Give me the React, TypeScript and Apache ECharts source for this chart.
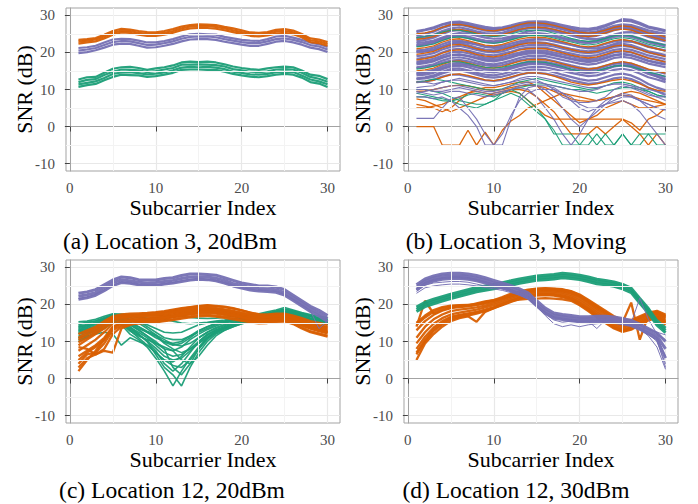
import React, { useEffect, useRef } from "react";
import * as echarts from "echarts";

const SUBCARRIERS = [1,2,3,4,5,6,7,8,9,10,11,12,13,14,15,16,17,18,19,20,21,22,23,24,25,26,27,28,29,30];
const X_TICKS = [0, 10, 20, 30];
const Y_TICKS = [-10, 0, 10, 20, 30];
const X_MINOR = [5, 15, 25];
const Y_MINOR = [-5, 5, 15, 25];
const X_RANGE = [-0.45, 31.45];
const Y_RANGE = [-12, 32];
const CAPTIONS = ["(a) Location 3, 20dBm", "(b) Location 3, Moving", "(c) Location 12, 20dBm", "(d) Location 12, 30dBm"];
const X_TITLE = "Subcarrier Index";
const Y_TITLE = "SNR (dB)";

const ORANGE = "#D95F02";
const PURPLE = "#7570B3";
const GREEN = "#1B9E77";

// ---- (a) Location 3, 20dBm
const A_ORANGE = [
  [23.4,23.6,23.9,24.8,25.8,26.4,26.2,25.8,25.5,25.4,25.8,26.3,27.0,27.4,27.6,27.5,27.4,26.9,26.5,26.0,25.4,25.3,25.5,26.1,26.3,25.9,25.0,23.8,23.5,22.8],
  [22.9,23.2,23.5,24.3,25.3,25.9,25.8,25.3,25.0,25.0,25.3,25.8,26.5,27.0,27.1,27.1,26.9,26.5,26.0,25.5,25.0,24.8,25.1,25.6,25.8,25.4,24.6,23.3,23.0,22.3],
  [22.4,22.7,23.0,23.8,24.8,25.4,25.3,24.8,24.5,24.5,24.8,25.3,26.0,26.5,26.6,26.6,26.4,26.0,25.5,25.0,24.5,24.3,24.6,25.1,25.3,24.9,24.1,22.8,22.5,21.8],
];
const A_PURPLE = [
  [21.2,21.4,21.8,22.7,23.5,23.7,23.6,23.2,22.7,22.7,23.1,23.6,24.3,24.9,25.0,24.9,24.8,24.2,23.8,23.4,23.2,23.1,23.6,24.3,24.5,24.0,23.4,22.7,22.2,21.5],
  [20.5,20.8,21.2,22.0,22.8,23.1,23.0,22.5,22.0,22.1,22.5,23.0,23.7,24.2,24.3,24.3,24.1,23.6,23.2,22.8,22.5,22.5,23.0,23.6,23.8,23.4,22.8,22.0,21.6,20.8],
  [19.8,20.1,20.6,21.3,22.1,22.4,22.3,21.8,21.3,21.4,21.8,22.3,23.0,23.5,23.6,23.6,23.4,22.9,22.5,22.1,21.8,21.8,22.3,22.9,23.1,22.7,22.1,21.3,20.9,20.1],
];
const A_GREEN = [
  [12.7,13.3,13.4,14.5,15.6,16.0,16.1,15.8,15.3,15.7,16.0,16.5,17.3,17.5,17.4,17.5,17.3,16.8,16.2,15.8,15.5,15.3,15.7,16.0,16.2,16.0,15.1,14.0,13.7,12.8],
  [12.0,12.6,12.8,13.9,14.8,15.4,15.3,15.2,14.7,15.0,15.4,15.8,16.7,16.7,16.8,16.7,16.6,16.2,15.5,15.2,14.8,14.7,14.9,15.4,15.5,15.4,14.5,13.4,12.9,12.1],
  [11.4,11.8,12.2,13.1,14.2,14.6,14.7,14.4,14.1,14.3,14.6,15.2,15.9,16.1,16.0,16.1,15.9,15.5,14.8,14.5,14.1,14.0,14.2,14.7,14.8,14.7,13.8,12.7,12.2,11.4],
  [10.7,11.2,11.5,12.5,13.4,14.0,13.9,13.8,13.4,13.6,14.0,14.5,15.3,15.4,15.4,15.3,15.3,14.8,14.2,13.8,13.5,13.3,13.6,14.0,14.2,14.0,13.2,12.0,11.6,10.7],
];

// ---- (b) Location 3, Moving
const B_PURPLE_MASS = [
  [25.5,26,26.5,27.5,28,28,27.5,27,26.5,26.3,26.5,27,27.5,28,28,28,27.5,27,26.5,26,26,26.3,27,28,29,28.8,28,27,26.5,26],
  [24,24.3,24.8,25.8,26.5,26.8,26.3,25.7,25.2,25,25.3,26,26.7,27.2,27.3,27.2,26.8,26.2,25.7,25.2,25,25.3,26,26.8,27.2,27,26.3,25.5,25,24.5],
  [22,22.3,22.8,23.8,24.5,24.7,24.3,23.7,23.2,23,23.3,24,24.6,25,25.2,25,24.6,24,23.5,23,22.8,23.1,23.8,24.5,24.8,24.5,23.8,23,22.5,22],
  [20.5,20.8,21.3,22.2,23,23.2,22.8,22.2,21.6,21.5,21.8,22.4,23,23.5,23.6,23.5,23,22.5,22,21.5,21.3,21.6,22.3,23,23.3,23,22.3,21.5,21,20.5],
  [19,19.3,19.8,20.8,21.5,21.8,21.3,20.7,20.2,20,20.3,21,21.6,22,22.1,22,21.6,21,20.5,20,19.8,20,20.7,21.5,21.8,21.5,20.8,20,19.5,19],
  [17.5,17.8,18.3,19.2,20,20.2,19.8,19.2,18.6,18.5,18.8,19.4,20,20.5,20.6,20.5,20,19.5,19,18.5,18.2,18.5,19.2,20,20.3,20,19.3,18.5,18,17.5],
  [16,16.3,16.8,17.8,18.5,18.7,18.3,17.6,17,16.8,17.2,17.8,18.5,19,19.1,19,18.5,18,17.5,17,16.7,17,17.7,18.5,18.8,18.5,17.8,17,16.5,16],
  [14.5,14.8,15.3,16.3,17,17.2,16.8,16,15.5,15.3,15.6,16.2,17,17.5,17.6,17.5,17,16.5,16,15.5,15.2,15.5,16.2,17,17.3,17,16.2,15.3,14.8,14.3],
  [13,13.3,13.8,14.8,15.5,15.7,15.2,14.5,14,13.8,14.2,14.8,15.5,16,16.1,16,15.5,15,14.5,14,13.6,13.8,14.5,15.3,15.6,15.2,14.3,13.3,12.7,12],
  [12,12.2,12.6,13.5,14,14,13.5,13,12.5,12.3,12.6,13.2,14,14.5,14.5,14.3,13.8,13.2,12.5,12,11.5,11.7,12.3,13,13.3,12.8,11.8,10.5,9.5,8.5],
  [23,23.4,24,25,25.8,26,25.5,25,24.6,24.5,24.7,25.3,26,26.5,26.7,26.5,26,25.5,25,24.5,24.2,24.5,25.2,26,26.5,26.2,25.5,24.7,24,23.3],
  [20,20.2,20.6,21.5,22.3,22.5,22,21.3,20.8,20.6,21,21.6,22.2,22.7,22.8,22.6,22.1,21.5,21,20.6,20.3,20.6,21.2,22,22.3,22,21.2,20.3,19.8,19.3],
  [24.8,25.1,25.6,26.6,27.3,27.5,27,26.4,25.9,25.7,26,26.6,27.3,27.7,27.8,27.7,27.2,26.6,26.1,25.6,25.4,25.7,26.4,27.2,27.6,27.4,26.7,26,25.5,25],
  [16.8,17.1,17.6,18.6,19.3,19.5,19,18.4,17.8,17.6,18,18.6,19.3,19.7,19.8,19.7,19.2,18.7,18.2,17.7,17.4,17.7,18.4,19.2,19.5,19.2,18.5,17.7,17.2,16.7],
  [13.8,14,14.5,15.5,16.2,16.4,16,15.3,14.8,14.6,15,15.6,16.3,16.8,16.9,16.8,16.3,15.8,15.2,14.7,14.4,14.7,15.4,16.2,16.5,16.1,15.2,14.2,13.5,12.8],
  [22.5,22.8,23.2,24,24.8,25.2,25,24.5,24,23.7,23.8,24.3,25,25.7,26,26,25.7,25.2,24.6,24,23.6,23.6,24,24.8,25.4,25.5,25,24.2,23.5,23],
  [18.3,18.6,19,20,20.8,21,20.5,19.9,19.4,19.2,19.6,20.2,20.9,21.3,21.4,21.3,20.8,20.2,19.7,19.2,19,19.3,20,20.7,21,20.7,20,19.2,18.7,18.2],
  [21.8,22,22.5,23.4,24.1,24.3,23.9,23.3,22.8,22.6,22.9,23.6,24.3,24.7,24.8,24.7,24.3,23.7,23.2,22.7,22.5,22.8,23.4,24.2,24.5,24.2,23.5,22.7,22.2,21.6],
  [24.5,25,25.8,26.8,27.5,27.6,27.3,26.8,26.3,26,26.2,26.6,27.2,27.6,27.7,27.5,27,26.4,25.8,25.3,25.1,25.4,26,26.6,26.8,26.5,25.8,25,24.4,23.8],
  [15.8,16,16.4,17.2,17.8,18,17.6,17,16.5,16.3,16.6,17.2,17.9,18.3,18.4,18.2,17.7,17.1,16.5,16,15.6,15.8,16.4,17,17.2,16.7,15.7,14.5,13.5,12.5],
  [20.2,20.4,20.8,21.6,22.4,22.8,22.6,22.1,21.5,21.2,21.3,21.8,22.5,23.2,23.5,23.5,23.2,22.7,22.1,21.5,21.1,21.1,21.5,22.3,22.9,23,22.5,21.7,21,20.5],
  [12.8,13,13.4,14.3,15,15.2,14.7,14,13.4,13.2,13.5,14.1,14.8,15.3,15.4,15.2,14.7,14,13.4,12.8,12.4,12.6,13.3,14,14.3,13.8,12.8,11.5,10.5,9.8],
  [25.8,26.2,26.8,27.6,28.2,28.3,27.9,27.4,26.9,26.6,26.8,27.3,27.9,28.3,28.4,28.3,27.9,27.4,26.9,26.5,26.4,26.7,27.4,28.2,28.6,28.4,27.6,26.7,26.2,25.7],
  [17.2,17.4,17.8,18.6,19.2,19.4,19.1,18.6,18.2,18,18.3,18.9,19.6,20.1,20.2,20,19.5,18.9,18.4,18,17.8,18,18.6,19.3,19.6,19.3,18.6,17.8,17.3,16.9],
  [23.8,24,24.5,25.3,26,26.2,25.8,25.3,24.8,24.6,24.9,25.5,26.2,26.6,26.7,26.6,26.2,25.6,25.1,24.7,24.5,24.8,25.5,26.3,26.6,26.3,25.6,24.8,24.3,23.8],
  [14.2,14.5,15,15.8,16.5,16.8,16.5,16,15.5,15.2,15.4,16,16.6,17.1,17.2,17,16.5,15.9,15.4,15,14.8,15,15.6,16.3,16.6,16.3,15.5,14.6,14,13.4],
];
const B_PURPLE_LOW = [
  [8,8,7.5,8,7,5,3,0,-5,-5,-2,3,7,9,10,10,10,9,8,6,5,5,6,7,8,8,7,6,5,4.5],
  [2.2,2.2,2.2,5,7.5,8,5,2,-2,-5,-5,2,8,10.5,11,11,10.5,9,7,5,4,5,7,8,8.5,8,7,6,5,4.5],
  [10,10,9.5,9.5,10,10.5,10,9.5,9,9,9.5,10,10.5,10,8,5,2,-2,-5,-2,2,5,6,6.5,7,6,4,1,-2,-5],
  [12,12,11.5,12,12.5,13,12.5,12,11.5,11,11.5,12,12.5,13,12.5,11.5,10,8,7,6.5,6.5,7,8,10,11,10.5,9.5,8.5,8,8],
  [9.5,9,8.5,9,9.5,9.5,9,8.5,8,8.5,9,10,11,11.5,11,10,8,5,2,0,2,4,6,8,9,8.5,7,5,3,2],
  [9,9.5,10,10.5,11,11,10.5,10,9.5,9.5,10,11,11.5,12,12,11.5,11,10.5,10,9.5,9.5,10,11,11.5,11.5,11,10.5,10,9.5,9],
  [10.5,10.8,11,12,12.5,12.5,12,11.5,11,11,11.5,12,13,13.5,13.5,13,12.5,12,11.5,11,10.5,10.5,11,11.5,11.5,11,10,9,8,7],
];
const B_ORANGE = [
  [23.5,23.8,24.3,25.2,26,26.2,25.8,25.2,24.7,24.5,24.8,25.5,26.2,26.7,26.8,26.7,26.2,25.6,25,24.5,24.3,24.6,25.3,26,26.3,26,25.2,24.4,23.8,23.2],
  [21,21.3,21.8,22.8,23.5,23.7,23.2,22.6,22,21.8,22.2,22.9,23.6,24,24.1,24,23.5,22.9,22.3,21.8,21.5,21.8,22.5,23.2,23.5,23.1,22.3,21.5,21,20.4],
  [18,18.3,18.8,19.8,20.5,20.7,20.2,19.5,19,18.8,19.2,19.9,20.6,21,21.1,21,20.5,19.9,19.3,18.8,18.5,18.8,19.5,20.2,20.5,20.1,19.3,18.5,18,17.4],
  [15,15.3,15.8,16.8,17.5,17.7,17.2,16.5,16,15.8,16.2,16.9,17.6,18,18.1,18,17.5,16.9,16.3,15.8,15.5,15.8,16.5,17.2,17.5,17.1,16.3,15.5,15,14.4],
  [12,12.2,12.5,13.3,14,14.2,13.8,13.2,12.6,12.4,12.8,13.4,14,14.5,14.5,14.2,13.6,12.8,12,11.5,11.2,11.5,12,12.5,12.8,12.3,11.5,10.5,9.8,9.5],
  [9.5,9.6,10,10.5,11,11.2,11,10.5,10,9.8,10,10.5,11,11.2,11,10.5,9.5,8.5,7.5,7,6.8,7,7.5,8,8.5,8.2,7.5,7,6.5,6],
  [25,25.3,25.8,26.8,27.5,27.6,27.2,26.6,26,25.8,26.2,26.8,27.5,28,28,27.8,27.3,26.7,26,25.5,25.2,25.4,26,26.8,27.2,26.9,26.1,25.3,24.8,24.2],
  [19.5,19.8,20.3,21.2,22,22.2,21.7,21,20.5,20.3,20.7,21.4,22.1,22.5,22.6,22.5,22,21.4,20.8,20.3,20,20.3,21,21.7,22,21.6,20.8,20,19.5,18.9],
  [0,0,0,-5,-5,-5,-1,-5,-1.5,-5,-1,1.5,3,5,6,7,8,9,8.5,8,7.5,7,7.5,8,9,9.5,9,8,7,6],
  [5,5,5.5,6,7,8,9,9.5,9,8.5,9,9.5,9,7,5,3,2,2,2,2,2,2,2,2,2,0,-2,-5,-2,-5],
  [7.5,7,6,5,4,5,6,7,8,9,9.5,10,10,9.5,8,6,4,1,-2,-2,-2,0,-2,0,2,1,-1,2,3,5],
  [6,5.5,5,4,5,7,9,10,10.5,10.5,11,11.5,12,12,11,9,7,5,3,1,2,3,5,6,7,6,5,5,5.5,6],
];
const B_GREEN = [
  [24,24.3,24.8,25.5,26,26,25.6,25,24.5,24.3,24.5,25,25.6,26,26,25.8,25.2,24.5,23.8,23.3,23,23.2,23.8,24.5,24.8,24.5,23.8,23,22.5,22],
  [12,12.3,12.8,12.5,12,11.5,11,10.5,10,9.8,10.2,11,12,12.5,13,12.5,12,11.5,11,10.5,10,10.3,11,11.8,12,11.5,10.5,9.5,8.5,8],
  [8,8,7.5,7,6.8,7.5,8.5,9,8.5,8,9,10,10.5,11,11.5,11.5,11,10.5,10,10,9.5,9,9.5,10,10.5,10.5,10,9.5,8.5,8],
  [15.5,15.8,16.3,17,17.5,17.5,17,16.5,16,15.8,16,16.5,17,17.5,17.5,17.3,16.8,16.2,15.5,15,14.8,15,15.7,16.3,16.5,16.2,15.5,14.7,14.2,13.5],
  [9,8.5,8,7.5,7,6,5.5,5,6,7,8,9,8,6,4,2,-2,-2,-2,-5,-2,-5,-2,-5,-2,-5,-2,-2,-2,-2],
  [10,10,9.5,9,8,7,6.5,6,6,7,9,10,9,7,5,2,-1,-5,-5,-5,-5,-2,-5,-5,-2,-5,-5,-2,-5,-5],
  [21.5,21.8,22.3,23.2,24,24.2,23.8,23.2,22.7,22.5,22.8,23.4,24,24.5,24.6,24.4,23.9,23.3,22.8,22.3,22,22.3,23,23.7,24,23.7,23,22.2,21.7,21.2],
];

// ---- (c) Location 12, 20dBm
const C_PURPLE_BAND = [
  [23.0,23.4,24.0,25.3,26.6,27.4,27.2,26.7,26.6,26.6,27.0,27.2,27.8,28.2,28.2,28.1,27.9,27.2,26.5,25.8,25.4,25.0,25.0,24.7,24.0,22.5,21.0,19.5,18.4,17.0],
  [22.2,22.6,23.2,24.5,25.9,26.6,26.4,26.0,25.8,25.9,26.2,26.5,27.0,27.4,27.5,27.4,27.1,26.5,25.7,25.1,24.6,24.3,24.2,24.0,23.2,21.8,20.3,18.8,17.6,16.2],
  [21.4,21.8,22.5,23.7,25.1,25.9,25.7,25.3,25.1,25.1,25.5,25.8,26.2,26.6,26.8,26.7,26.4,25.8,25.0,24.4,23.9,23.6,23.5,23.3,22.5,21.1,19.6,18.1,16.9,15.4],
];
const C_PURPLE_THIN = [
  [21.6,22,22.7,23.9,25.3,26,25.8,25.4,25.2,25.3,25.6,25.9,26.4,26.8,26.9,26.8,26.5,25.9,25.2,24.6,24.1,23.8,23.7,23.5,22.7,21.3,19.8,18.3,13.5,15.5],
];
const C_GREEN = [
  [15.3,15.5,16,16.8,17.5,17.4,17.3,17.2,17.1,17.2,17.1,17,16.8,16.5,16.3,16.2,16.3,16.5,16.8,17,17.3,17.5,18,18.5,19.2,18.5,17.8,17.3,16.8,16.5],
  [14,14.4,15,16,17,17,16.8,16.5,16.3,16.2,16,15.5,15,14.8,15,15.2,15.5,15.8,16.2,16.6,17,17.2,17.6,18.2,18.8,18.2,17.5,17,16.3,16],
  [12.5,13,14,15,16.2,16.3,15.8,15.3,14.5,13.5,12.5,12.3,12.5,13.5,14.5,15,15.3,15.5,16,16.3,16.7,17,17.3,17.8,18.3,17.8,17.2,16.7,16,15.5],
  [11,11.8,13,14.3,15.5,15.8,15,14,12.5,11,10,9.5,10,11.5,13,14,14.8,15.2,15.7,16,16.5,16.8,17,17.5,18,17.5,17,16.3,15.7,15.3],
  [10,11,12.3,13.5,15,15.5,14.5,13.2,11.5,9.5,8,7.5,8.5,10.5,12,13.2,14.2,15,15.5,15.8,16.2,16.5,16.8,17.2,17.7,17.2,16.6,16,15.5,15],
  [13.5,14,14.8,15.5,16.5,15,13,11,9,7,5,4.5,6,8.5,11,12.5,13.5,14.3,15,15.5,16,16.3,16.6,17,17.5,17,16.4,15.8,15.3,14.8],
  [14.5,15,15.5,16.2,17,16,14,12,10,7.5,4,2,4,7,10,12,13.2,14,14.7,15.2,15.7,16,16.5,17,17.6,17,16.5,16,15.5,15],
  [12,12.5,13.5,14.8,16,14.5,12,10.5,8.5,5.5,2,-2,2,5.5,8.5,11,12.5,13.5,14.3,15,15.5,15.8,16.2,16.8,17.3,16.8,16.2,15.6,15.2,14.7],
  [13,13.5,14.2,15.2,16.3,15.2,13.5,12,10,6.5,3,1,-2,3,7,10,12,13,14,14.8,15.3,15.6,16,16.5,17,16.6,16,15.5,15,14.5],
  [11.5,12.2,13.2,14.5,16,15.3,13.8,12.5,11,9,7,6,6.5,8,10,11.8,13,13.8,14.5,15.2,15.8,16.2,16.6,17.2,17.8,17.3,16.8,16.2,15.6,15.2],
  [14.8,15.2,15.6,16.5,17.3,17,16.5,15.5,14,12.5,11,10.5,10.5,11.5,12.5,13.5,14.5,15.2,15.8,16.3,16.8,17,17.4,18,18.6,18,17.4,16.8,16.2,15.8],
  [12.8,13.3,14,15,16,15.8,14.8,13.5,12.5,11.5,9.5,8,7,8,9.5,11,12.5,13.5,14.3,15,15.5,16,16.5,17,17.5,17,16.4,15.8,15.3,14.8],
  [13.8,14.2,14.9,15.8,16.8,16,14.5,13,11.5,10,8,3,1,4,8,11,12.8,13.8,14.6,15.3,15.9,16.3,16.8,17.3,18,17.5,16.9,16.2,15.7,15.2],
  [10.5,11.2,12.5,14,15.3,14.8,12.8,11.5,10.5,9.5,8.5,7.5,5,4,6,9,11.5,13,14,14.8,15.4,15.8,16.2,16.8,17.3,16.8,16.2,15.6,15,14.6],
  [11,11.5,12,12.5,12,9,11,10,9,7,5,3.5,3,5,8,10.5,12.3,13.4,14.3,15,15.6,16,16.4,16.9,17.4,17,16.3,15.7,15.2,14.7],
  [13.2,13.8,14.5,15.5,16.6,16.2,15.2,14,12.8,11.8,10.5,9.2,8.8,9.5,11,12.5,13.8,14.6,15.2,15.7,16.2,16.5,16.9,17.4,18,17.5,16.9,16.3,15.8,15.3],
  [12.2,12.8,13.8,15,16.2,15.5,13.2,11.8,10.2,8.2,6,5,5.5,7.5,9.5,11.5,13,13.9,14.7,15.3,15.8,16.1,16.5,17,17.6,17.1,16.5,15.9,15.4,14.9],
  [14.2,14.6,15.2,16,17,16.8,16,15,13.5,11.8,9.8,9,9.5,11,12.8,14,14.9,15.4,15.9,16.4,16.9,17.2,17.6,18.1,18.7,18.2,17.6,17,16.4,16],
];
const C_ORANGE = [
  [12,13,14,15.5,16.8,17.3,17.5,17.6,17.7,17.9,18.2,18.6,19,19.3,19.6,19.7,19.5,19.3,18.9,18.4,17.8,17.4,17.3,17.5,17.5,17,16.3,15.5,15,14.5],
  [10.5,11.8,13,14.5,16.2,16.8,17,17.1,17.2,17.4,17.7,18.1,18.5,18.8,19.1,19.2,19,18.7,18.3,17.8,17.3,16.9,16.8,17,17.2,16.6,15.8,15,14.4,13.8],
  [9,10.5,12,13.5,15.5,16.2,16.5,16.6,16.7,16.9,17.2,17.6,18,18.3,18.6,18.7,18.5,18.2,17.8,17.3,16.8,16.4,16.3,16.6,16.8,16.2,15.3,14.5,13.8,13.2],
  [7.5,9,10.5,12.5,14.8,15.6,16,16.1,16.2,16.4,16.7,17,17.5,17.8,18.1,18.2,18,17.7,17.3,16.8,16.3,16,15.9,16.2,16.4,15.8,14.8,14,13.3,12.7],
  [6,7.5,9,11,14,15,15.4,15.5,15.7,15.9,16.2,16.5,17,17.3,17.6,17.7,17.5,17.2,16.8,16.3,15.8,15.5,15.5,15.8,16,15.3,14.3,13.5,12.8,12.2],
  [4,6.5,7,9.5,13,14.4,14.8,15,15.2,15.4,15.7,16,16.5,16.8,17.1,17.2,17,16.7,16.3,15.8,15.4,15.1,15.2,15.5,15.6,14.9,13.8,12.8,12.2,11.6],
  [8.5,8,6.5,7.5,7,13.5,14.5,15.2,15.6,15.8,16.2,16.6,17,17.4,17.8,18,17.8,17.4,17,16.5,16,15.7,15.6,15.9,16.2,15.6,14.6,13.7,13,12.5],
  [2,5,7.5,10.5,13.5,15,15.7,16,16.2,16.5,16.9,17.3,17.8,18.1,18.5,18.6,18.4,18,17.6,17.1,16.6,16.2,16.1,16.4,16.6,16,15,14.2,13.5,12.9],
  [11,12.5,13.5,15,16.5,17,17.2,17.3,17.5,17.7,18,18.4,18.8,19.2,19.5,19.8,19.6,19.4,19,18.4,17.8,17.2,17,17.2,17.3,16.6,15.6,14.8,14.2,14],
  [5,7,8.5,10.5,13.8,15.2,15.6,15.8,16,16.2,16.5,16.8,17.3,17.6,17.9,18,17.8,17.5,17.1,16.6,16.1,15.8,15.8,16.1,16.3,15.6,14.5,13.6,13,12.4],
  [9.8,11,12.5,14,16,16.5,16.8,16.9,17,17.2,17.5,17.9,18.3,18.6,18.9,19,18.8,18.5,18.1,17.6,17.1,16.7,16.6,16.9,17,16.4,15.5,14.7,14,13.5],
  [3,5.5,6.5,8,12,14,14.6,14.8,15,15.2,15.5,15.8,16.2,16.5,16.8,16.9,16.7,16.4,16,15.6,15.2,14.9,15,15.3,15.4,14.7,13.5,12.5,11.9,11.3],
];

// ---- (d) Location 12, 30dBm
const D_GREEN = [
  [19.3,20.6,21.4,22.1,22.8,23.4,24.0,24.6,25.0,25.4,25.9,26.4,26.9,27.3,27.7,27.9,28.1,28.4,28.2,27.9,27.4,26.8,26.5,26.1,25.4,24.4,21.6,18.9,15.6,13.6],
  [18.7,20.0,20.8,21.5,22.2,22.8,23.4,24.0,24.4,24.8,25.3,25.8,26.3,26.7,27.1,27.3,27.5,27.8,27.6,27.3,26.8,26.2,25.9,25.5,24.8,23.8,21.0,18.3,15.0,13.0],
  [18.1,19.4,20.2,20.9,21.6,22.2,22.8,23.4,23.8,24.2,24.7,25.2,25.7,26.1,26.5,26.7,26.9,27.2,27.0,26.7,26.2,25.6,25.3,24.9,24.2,23.2,20.4,17.7,14.4,12.4],
];
const D_PURPLE_BAND = [
  [25.3,26.9,27.7,28.2,28.4,28.4,28.2,27.8,27.2,26.5,25.8,25.1,24.2,23.1,21.0,19.0,17.7,17.3,17.0,16.7,16.7,16.8,16.8,16.6,16.2,15.7,14.7,13.5,12.3,10.0],
  [24.6,26.2,27.0,27.5,27.7,27.7,27.5,27.1,26.5,25.8,25.1,24.4,23.5,22.4,20.3,18.3,17.0,16.6,16.3,16.0,16.0,16.1,16.1,15.9,15.5,15.0,14.0,12.8,11.5,8.0],
  [23.9,25.5,26.3,26.8,27.0,27.0,26.8,26.4,25.8,25.1,24.4,23.7,22.8,21.7,19.6,17.6,16.3,15.9,15.6,15.3,15.3,15.4,15.4,15.2,14.8,14.3,13.3,12.1,10.7,5.5],
];
const D_PURPLE_THIN = [
  [23,24.5,25,25.3,25.5,25.5,25.3,25,24.6,24.2,23.8,23.2,22.5,21.5,19.5,17,14.8,14,14.5,14,14.5,14.8,15,15,14.7,14.2,13.2,11.8,10.5,3],
  [23.5,25.2,25.8,26,26.2,26.2,26,25.5,25,24.6,24.2,23.6,22.8,21.8,19.8,17.5,15.8,15.2,15.5,15.3,15.5,13.5,15.8,15.5,15.2,14.8,13.7,12.5,11,6],
  [24.2,26,26.8,27.2,27.5,27.5,27.3,26.8,26.2,25.5,24.8,24,23,22,20,18,16.7,16.3,16,15.8,15.8,15.9,16,15.7,15.3,15,21.7,16,12,10.5],
  [25,26.5,27.4,27.9,28,28,27.8,27.4,26.8,26.1,25.4,24.7,23.8,22.8,20.7,18.6,17.3,16.9,16.6,16.3,16.3,16.4,16.4,16.2,15.8,15.4,14.5,13.3,12.5,11.8],
  [24.3,25.8,26.6,27.1,27.3,27.3,27.1,26.7,26.1,25.4,24.7,24,23.1,22,19.9,17.8,16.5,16.1,15.8,15.5,15.5,15.6,15.6,15.4,15,14.5,13.5,12,10,4],
  [24,25.6,26.4,26.9,27.1,27.1,26.9,26.5,25.9,25.2,24.5,23.8,22.9,21.8,19.7,17.7,16.4,16,15.7,15.4,15.4,15.5,15.5,15.3,14.9,14.4,13.4,11.5,8.5,2.5],
];
const D_ORANGE = [
  [15,17,18.5,19.3,19.7,19.8,19.9,20,20.5,21,21.8,22.6,23.3,23.8,24.2,24.3,24.2,24,23.5,22.5,21,19.5,18,16.5,15.5,15.5,16.5,17.5,18,17],
  [13,15.5,17.2,18.3,19,19.3,19.5,19.8,20.2,20.7,21.4,22.2,23,23.5,23.8,23.9,23.8,23.5,23,22,20.5,18.8,17.3,15.8,14.8,15,16.2,17.3,17.8,16.6],
  [11,14,16,17.3,18.2,18.6,18.9,19.2,19.7,20.3,21,21.8,22.6,23.2,23.5,23.6,23.5,23.2,22.6,21.5,20,18.3,16.7,15.2,14.3,14.6,15.8,17,17.5,16.2],
  [9.5,12.5,14.8,16.3,17.3,17.8,18.2,18.6,19.2,19.8,20.6,21.4,22.2,22.8,23.1,23.2,23.1,22.8,22.2,21,19.5,17.8,16.2,14.7,13.8,14.2,15.4,16.6,17.2,15.8],
  [8,11.3,13.8,15.5,16.7,17.2,17.6,18,18.6,19.3,20.2,21,21.8,22.4,22.7,22.8,22.7,22.4,21.8,20.5,19,17.3,15.7,14.2,13.3,13.8,15,16.3,16.8,15.4],
  [6.5,10,12.8,14.6,16,16.6,17,17.5,18.2,19,19.8,20.7,21.5,22.1,22.4,22.5,22.4,22,21.4,20,18.5,16.8,15.2,13.7,12.8,13.4,14.7,16,16.5,15],
  [14,21,17.5,18.5,19.2,19.5,19.7,20.3,20.8,21.2,21.6,22.3,23,23.6,24,24.2,24,23.7,23.2,22.2,20.7,19.2,17.6,16.2,15.2,20.5,10.5,17,17.8,16.8],
  [5,9.5,12,14,15.5,16.3,16.8,15.3,18,19,20,21,21.3,21.5,21.6,21.7,21.6,21.4,21,19.8,18.2,16.5,15,13.5,12.6,13.2,14.5,15.7,16.3,14.5],
  [14.5,16.5,18,19,19.5,19.7,19.8,20.1,20.6,21.2,22,22.9,23.5,24,24.3,24.4,24.3,24.1,23.6,22.7,21.3,19.8,18.3,16.8,15.8,15.8,16.8,17.8,18.3,17.3],
  [7,10.5,13.3,15,16.4,17,17.3,17.8,18.4,19.1,20,20.8,21.7,22.3,22.6,22.7,22.6,22.2,21.6,20.3,18.8,17,15.4,13.9,13,13.6,14.8,16.1,16.6,15.2],
];

// layout
const PLOT_W = 274;
const PLOT_H = 163;
const PANELS = [
  { left: 66, top: 8, groups: [[A_GREEN, GREEN, 2.2], [A_PURPLE, PURPLE, 2.2], [A_ORANGE, ORANGE, 2.2]] },
  { left: 404, top: 8, groups: [[B_PURPLE_MASS, PURPLE, 2.2], [B_ORANGE, ORANGE, 1.3], [B_GREEN, GREEN, 1.1], [B_PURPLE_LOW, PURPLE, 1.1]] },
  { left: 66, top: 260, groups: [[C_GREEN, GREEN, 1.6], [C_ORANGE, ORANGE, 2.3], [C_PURPLE_BAND, PURPLE, 3], [C_PURPLE_THIN, PURPLE, 1]] },
  { left: 404, top: 260, groups: [[D_ORANGE, ORANGE, 2.3], [D_GREEN, GREEN, 3], [D_PURPLE_BAND, PURPLE, 3], [D_PURPLE_THIN, PURPLE, 1]] },
];
const CAPTION_POS = [[170, 241], [516, 241], [172, 490], [516, 490]];
const SERIF = "Liberation Serif, Times New Roman, serif";

function buildOption() {
  const grid: any[] = [];
  const xAxis: any[] = [];
  const yAxis: any[] = [];
  const series: any[] = [];
  const elements: any[] = [];

  PANELS.forEach((p, k) => {
    grid.push({
      left: p.left, top: p.top, width: PLOT_W, height: PLOT_H,
      show: true, backgroundColor: "#ffffff", borderColor: "#a3a3a3", borderWidth: 1,
      containLabel: false, outerBoundsMode: "none",
    });
    xAxis.push({
      type: "value", gridIndex: k, min: X_RANGE[0], max: X_RANGE[1], splitNumber: 3,
      axisLine: { show: true, lineStyle: { color: "#a3a3a3", width: 1 } },
      axisTick: { show: true, length: 5, customValues: X_TICKS, lineStyle: { color: "#444", width: 1 } },
      axisLabel: { customValues: X_TICKS, margin: 10, fontFamily: SERIF, fontSize: 15, lineHeight: 14, color: "#4d4d4d" },
      splitLine: { show: true, lineStyle: { color: "#e8e8e8", width: 1.2 } },
    });
    yAxis.push({
      type: "value", gridIndex: k, min: Y_RANGE[0], max: Y_RANGE[1], splitNumber: 4,
      axisLine: { show: true, lineStyle: { color: "#a3a3a3", width: 1 } },
      axisTick: { show: true, length: 5, customValues: Y_TICKS, lineStyle: { color: "#444", width: 1 } },
      axisLabel: { customValues: Y_TICKS, margin: 11, fontFamily: SERIF, fontSize: 15, color: "#4d4d4d" },
      splitLine: { show: true, lineStyle: { color: "#e8e8e8", width: 1.2 } },
    });
    // minor grid lines
    series.push({
      type: "line", xAxisIndex: k, yAxisIndex: k, data: [], silent: true, z: 1,
      markLine: {
        silent: true, symbol: ["none", "none"], label: { show: false }, animation: false,
        lineStyle: { color: "#f3f3f3", width: 1, type: "solid" },
        emphasis: { disabled: true },
        data: [...X_MINOR.map((v) => ({ xAxis: v })), ...Y_MINOR.map((v) => ({ yAxis: v }))],
      },
    });
    p.groups.forEach(([lines, color, width]: any) => {
      (lines as number[][]).forEach((vals) => {
        series.push({
          type: "line", xAxisIndex: k, yAxisIndex: k,
          data: SUBCARRIERS.map((x, i) => [x, vals[i]]),
          symbol: "none", showSymbol: false, silent: true, z: 2,
          lineStyle: { color, width, opacity: 0.95 },
          emphasis: { disabled: true },
        });
      });
    });
    elements.push({
      type: "text", x: p.left - 42, y: p.top + PLOT_H / 2, rotation: Math.PI / 2,
      style: { text: Y_TITLE, fontFamily: SERIF, fontSize: 22, fill: "#000", align: "center", verticalAlign: "middle" },
    });
    elements.push({
      type: "text", x: p.left + PLOT_W / 2, y: p.top + PLOT_H + 36,
      style: { text: X_TITLE, fontFamily: SERIF, fontSize: 22, fill: "#000", align: "center", verticalAlign: "middle" },
    });
    elements.push({
      type: "text", x: CAPTION_POS[k][0], y: CAPTION_POS[k][1],
      style: { text: CAPTIONS[k], fontFamily: SERIF, fontSize: 23.5, fill: "#000", align: "center", verticalAlign: "middle" },
    });
  });

  return {
    animation: false,
    backgroundColor: "#ffffff",
    grid, xAxis, yAxis, series,
    graphic: { elements },
  };
}

export default function App() {
  const ref = useRef<HTMLDivElement>(null);
  useEffect(() => {
    if (!ref.current) return;
    const chart = echarts.init(ref.current, undefined, { renderer: "svg" });
    chart.setOption(buildOption() as any);
    return () => chart.dispose();
  }, []);
  return (
    <div
      ref={ref}
      style={{ position: "fixed", left: 0, top: 0, width: 698, height: 504, background: "#ffffff" }}
    />
  );
}
